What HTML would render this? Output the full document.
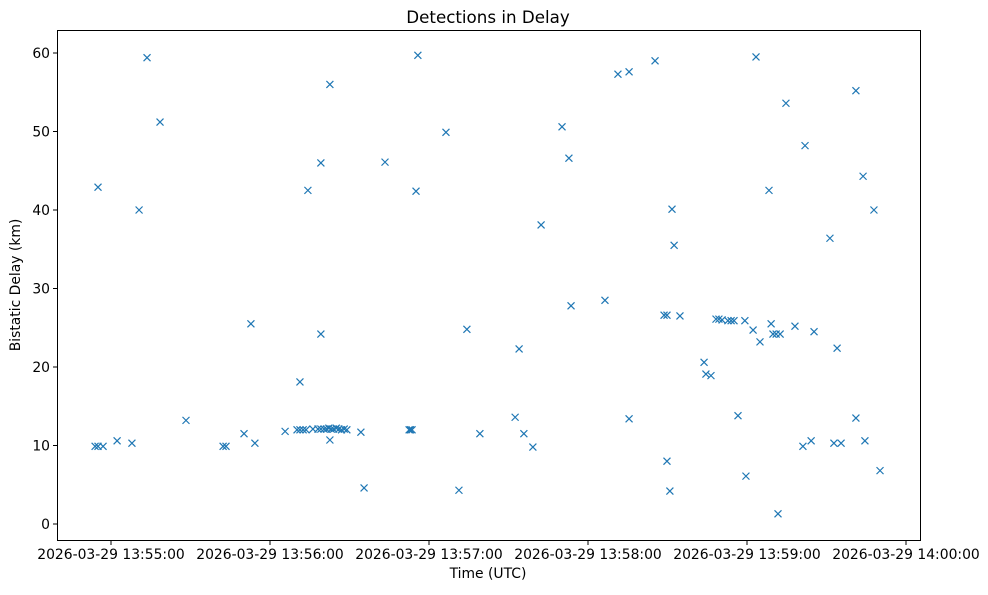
<!DOCTYPE html>
<html><head><meta charset="utf-8"><style>
body{margin:0;background:#fff;font-family:"Liberation Sans","DejaVu Sans",sans-serif;}
svg text{font-family:"DejaVu Sans","Liberation Sans",sans-serif;}
</style></head><body>
<svg id="chart" width="988" height="590" xmlns="http://www.w3.org/2000/svg">
<rect x="0" y="0" width="988" height="590" fill="#fff"/>
<text x="488" y="23" text-anchor="middle" font-size="16.7">Detections in Delay</text>
<text x="488" y="578" text-anchor="middle" font-size="13.9">Time (UTC)</text>
<text x="20" y="285" text-anchor="middle" font-size="13.9" transform="rotate(-90 20 285)">Bistatic Delay (km)</text>
<g id="marks"></g>
<g id="axes"></g>
<rect x="57.5" y="30.5" width="863" height="510" fill="none" stroke="#000" stroke-width="1"/>
</svg>
<script>
// seconds after 13:55:00 UTC
const times = [-6.0,-4.9,-3.0,-4.9,2.3,7.9,10.6,13.6,18.5,28.3,42.3,43.4,50.2,52.8,54.3,65.7,71.3,70.2,71.3,72.5,73.6,74.3,76.2,78.1,79.2,79.2,79.2,80.4,81.3,82.2,83.1,84.0,85.0,86.0,87.0,88.0,89.0,82.6,82.6,94.3,95.5,103.4,112.5,113.0,113.6,115.1,115.8,126.4,131.3,134.3,139.2,152.5,154.0,155.8,159.2,162.3,170.2,172.8,173.6,186.4,191.3,195.5,195.5,205.3,208.7,209.8,209.8,210.9,211.7,212.5,214.7,223.8,224.5,226.4,228.3,229.4,230.6,232.8,234.0,235.1,236.6,239.2,239.6,242.3,243.4,244.9,248.3,249.1,249.8,251.0,252.5,251.7,254.7,258.1,261.1,261.9,264.2,265.3,271.3,272.8,275.5,274.0,281.1,281.1,283.8,284.5,287.9,290.2];
const delays = [9.9,9.9,9.9,42.9,10.6,10.3,40.0,59.4,51.2,13.2,9.9,9.9,11.5,25.5,10.3,11.8,18.1,12.0,12.0,12.0,12.0,42.5,12.1,12.1,12.1,46.0,24.2,12.1,12.1,12.2,12.1,12.1,12.2,12.1,12.0,12.1,12.0,10.7,56.0,11.7,4.6,46.1,12.0,12.0,12.0,42.4,59.7,49.9,4.3,24.8,11.5,13.6,22.3,11.5,9.8,38.1,50.6,46.6,27.8,28.5,57.3,57.6,13.4,59.0,26.6,26.6,8.0,4.2,40.1,35.5,26.5,20.6,19.1,18.9,26.1,26.1,26.0,25.9,25.9,25.9,13.8,25.9,6.1,24.7,59.5,23.2,42.5,25.5,24.2,24.2,24.2,1.3,53.6,25.2,9.9,48.2,10.6,24.5,36.4,10.3,10.3,22.4,55.2,13.5,44.3,10.6,40.0,6.8];
const yTicks = [0,10,20,30,40,50,60];
const xTicks = [0,60,120,180,240,300];
const xTickLabels = ["2026-03-29 13:55:00","2026-03-29 13:56:00","2026-03-29 13:57:00","2026-03-29 13:58:00","2026-03-29 13:59:00","2026-03-29 14:00:00"];
const NS="http://www.w3.org/2000/svg";
function xs(t){return 111 + t*2.65;}
function ys(v){return 524 - v*7.85;}
const marks=document.getElementById('marks');
for(let i=0;i<times.length;i++){
  const x=xs(times[i]), y=ys(delays[i]);
  const p=document.createElementNS(NS,'path');
  p.setAttribute('d',`M${x-3.5},${y-3.5}L${x+3.5},${y+3.5}M${x-3.5},${y+3.5}L${x+3.5},${y-3.5}`);
  p.setAttribute('stroke','#1f77b4');p.setAttribute('stroke-width','1.2');p.setAttribute('fill','none');
  
  
  marks.appendChild(p);
}
const axes=document.getElementById('axes');
yTicks.forEach(v=>{
  const y=ys(v);
  const l=document.createElementNS(NS,'line');
  l.setAttribute('x1',53);l.setAttribute('x2',57);l.setAttribute('y1',y);l.setAttribute('y2',y);l.setAttribute('stroke','#000');
  
  
  axes.appendChild(l);
  const t=document.createElementNS(NS,'text');
  t.setAttribute('x',50);t.setAttribute('y',y+5);t.setAttribute('text-anchor','end');t.setAttribute('font-size','13.9');
  t.textContent=v;
  
  
  axes.appendChild(t);
});
xTicks.forEach((s,i)=>{
  const x=xs(s);
  const l=document.createElementNS(NS,'line');
  l.setAttribute('x1',x);l.setAttribute('x2',x);l.setAttribute('y1',541);l.setAttribute('y2',545);l.setAttribute('stroke','#000');
  
  
  axes.appendChild(l);
  const t=document.createElementNS(NS,'text');
  t.setAttribute('x',x);t.setAttribute('y',559);t.setAttribute('text-anchor','middle');t.setAttribute('font-size','13.9');
  t.textContent=xTickLabels[i];
  
  
  axes.appendChild(t);
});
</script>
</body></html>
